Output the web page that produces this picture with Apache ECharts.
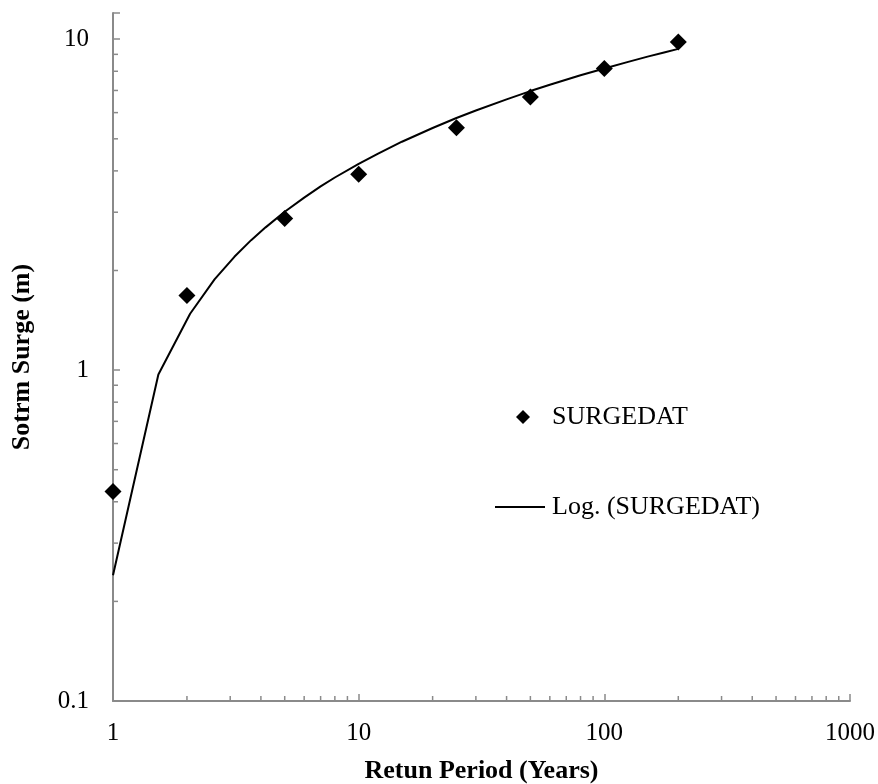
<!DOCTYPE html>
<html>
<head>
<meta charset="utf-8">
<title>Storm Surge vs Return Period</title>
<script src="https://cdn.jsdelivr.net/npm/echarts@6/dist/echarts.min.js"></script>
<style>
  html, body { margin: 0; padding: 0; background: #ffffff; }
  #chart { width: 878px; height: 784px; }
</style>
</head>
<body>
<div id="chart"></div>
<script>
// Observed storm surge heights (m) by return period (years)
const returnPeriods = [1, 2, 5, 10, 25, 50, 100, 200];
const surgeHeights  = [0.43, 1.68, 2.87, 3.91, 5.40, 6.69, 8.15, 9.81];

// Logarithmic trend line, sampled along the fitted curve
const trendPeriods = [1, 1.53, 2.06, 2.59, 3.12, 3.65, 4.18, 5, 6, 7, 8, 10, 12, 15, 20,
                      25, 30, 40, 50, 60, 80, 100, 125, 150, 175, 200];
const trendSurge   = [0.24, 0.97, 1.48, 1.88, 2.20, 2.47, 2.70, 3.01, 3.32, 3.59, 3.82, 4.20, 4.51, 4.90, 5.39,
                      5.78, 6.09, 6.58, 6.97, 7.28, 7.78, 8.16, 8.54, 8.86, 9.12, 9.35];

// Minor tick positions for the two logarithmic axes
const xMinorTicks = [2, 3, 4, 5, 6, 7, 8, 9,
                     20, 30, 40, 50, 60, 70, 80, 90,
                     200, 300, 400, 500, 600, 700, 800, 900];
const yMinorTicks = [0.2, 0.3, 0.4, 0.5, 0.6, 0.7, 0.8, 0.9,
                     2, 3, 4, 5, 6, 7, 8, 9];

const X_MIN = 1, X_MAX = 1000;
const Y_MIN = 0.1, Y_MAX = 12;

const AXIS_COLOR = '#8a8a8a';
const SERIF = '"Liberation Serif", "Times New Roman", "DejaVu Serif", serif';

function powerLabel(v) {
  const e = Math.log10(v);
  if (Math.abs(e - Math.round(e)) > 1e-6) return '';
  const r = Math.round(e);
  return r < 0 ? Math.pow(10, r).toFixed(-r) : String(Math.pow(10, r));
}

function xMinorTick(params, api) {
  const p = api.coord([api.value(0), Y_MIN]);
  return {
    type: 'line',
    shape: { x1: p[0], y1: p[1], x2: p[0], y2: p[1] - 5 },
    style: { stroke: AXIS_COLOR, lineWidth: 1.5 }
  };
}

function yMinorTick(params, api) {
  const p = api.coord([X_MIN, api.value(1)]);
  return {
    type: 'line',
    shape: { x1: p[0], y1: p[1], x2: p[0] + 5, y2: p[1] },
    style: { stroke: AXIS_COLOR, lineWidth: 1.5 }
  };
}

const chart = echarts.init(document.getElementById('chart'), null, { renderer: 'canvas' });

chart.setOption({
  backgroundColor: '#ffffff',
  animation: false,
  grid: {
    left: 113, right: 28, top: 13, bottom: 83,
    containLabel: false,
    outerBoundsMode: 'none'
  },
  legend: [
    {
      data: [{ name: 'SURGEDAT', icon: 'diamond' }],
      left: 516, top: 404,
      padding: 0,
      itemWidth: 14, itemHeight: 14,
      selectedMode: false,
      textStyle: { fontFamily: SERIF, fontSize: 26, color: '#000000', padding: [0, 0, 0, 17] }
    },
    {
      data: [{ name: 'Log. (SURGEDAT)', icon: 'rect' }],
      left: 495, top: 494,
      padding: 0,
      itemWidth: 50, itemHeight: 2,
      selectedMode: false,
      textStyle: { fontFamily: SERIF, fontSize: 26, color: '#000000', padding: [0, 0, 0, 2] }
    }
  ],
  xAxis: {
    type: 'log',
    logBase: 10,
    min: X_MIN, max: X_MAX,
    name: 'Retun Period (Years)',
    nameLocation: 'middle',
    nameGap: 57,
    nameTextStyle: { fontFamily: SERIF, fontSize: 26, fontWeight: 'bold', color: '#000000' },
    axisLine: { show: true, onZero: false, lineStyle: { color: AXIS_COLOR, width: 2 } },
    axisTick: { show: true, inside: true, length: 7, lineStyle: { color: AXIS_COLOR, width: 1.5 } },
    minorTick: { show: false },
    splitLine: { show: false },
    axisLabel: {
      fontFamily: SERIF, fontSize: 25, color: '#000000', margin: 20,
      showMinLabel: true, showMaxLabel: true,
      formatter: powerLabel
    }
  },
  yAxis: {
    type: 'log',
    logBase: 10,
    min: Y_MIN, max: Y_MAX,
    name: 'Sotrm Surge (m)',
    nameLocation: 'middle',
    nameGap: 78,
    nameRotate: 90,
    nameTextStyle: { fontFamily: SERIF, fontSize: 26, fontWeight: 'bold', color: '#000000' },
    axisLine: { show: true, onZero: false, lineStyle: { color: AXIS_COLOR, width: 2 } },
    axisTick: { show: true, inside: true, length: 7, lineStyle: { color: AXIS_COLOR, width: 1.5 } },
    minorTick: { show: false },
    splitLine: { show: false },
    axisLabel: {
      fontFamily: SERIF, fontSize: 25, color: '#000000', margin: 24,
      showMinLabel: true, showMaxLabel: true,
      formatter: powerLabel
    }
  },
  series: [
    {
      type: 'custom',
      name: 'x-minor-ticks',
      silent: true,
      z: 1,
      renderItem: xMinorTick,
      data: xMinorTicks.map(v => [v, 1])
    },
    {
      type: 'custom',
      name: 'y-minor-ticks',
      silent: true,
      z: 1,
      renderItem: yMinorTick,
      data: yMinorTicks.map(v => [X_MIN, v])
    },
    {
      type: 'line',
      name: 'Log. (SURGEDAT)',
      data: trendPeriods.map((x, i) => [x, trendSurge[i]]),
      symbol: 'none',
      smooth: false,
      z: 3,
      lineStyle: { color: '#000000', width: 2 },
      itemStyle: { color: '#000000' }
    },
    {
      type: 'scatter',
      name: 'SURGEDAT',
      data: returnPeriods.map((x, i) => [x, surgeHeights[i]]),
      symbol: 'diamond',
      symbolSize: 17,
      z: 4,
      itemStyle: { color: '#000000', opacity: 1 }
    }
  ]
});
</script>
</body>
</html>
